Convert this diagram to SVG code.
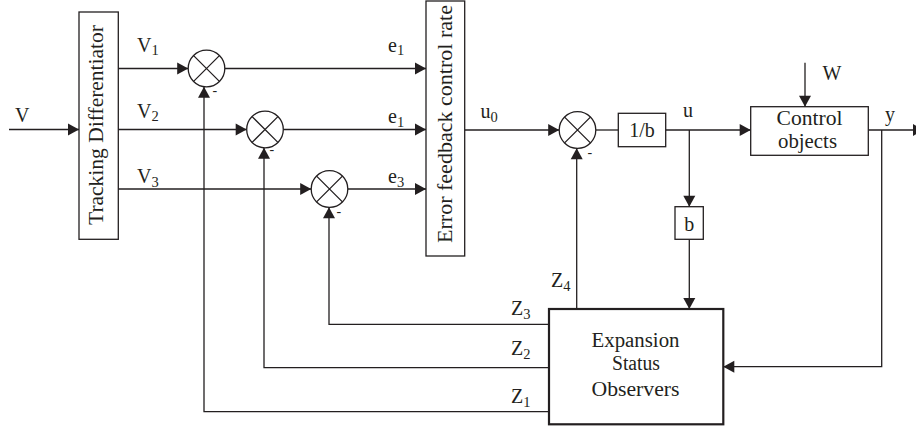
<svg xmlns="http://www.w3.org/2000/svg" width="916" height="430" viewBox="0 0 916 430">
<defs>
<marker id="arr" markerUnits="userSpaceOnUse" markerWidth="11" markerHeight="12" refX="11" refY="6" orient="auto" overflow="visible">
<path d="M0,0 L11,6 L0,12 Z" fill="#231f20"/>
</marker>
<style>
.ln{fill:none;stroke:#231f20;stroke-width:1.3}
.ar{marker-end:url(#arr)}
.bx{fill:#fff;stroke:#231f20;stroke-width:1.3}
.bx2{fill:#fff;stroke:#231f20;stroke-width:2.2}
.sum{fill:#fff;stroke:#231f20;stroke-width:1.3}
text{font-family:"Liberation Serif","Times New Roman",serif;fill:#231f20;font-size:20px}
.sub{font-size:14.5px}
.mn{font-size:14px}
.c{text-anchor:middle}
</style>
</defs>
<rect width="916" height="430" fill="#fff"/>

<g id="connectors">
<path class="ln ar" d="M9,129.5 H79"/>
<path class="ln ar" d="M118,68.5 H188.2"/>
<path class="ln ar" d="M118,129.5 H246.7"/>
<path class="ln ar" d="M118,189 H311.2"/>
<path class="ln ar" d="M224.8,68.5 H426"/>
<path class="ln ar" d="M283.3,129.5 H426"/>
<path class="ln ar" d="M347.8,189 H426"/>
<path class="ln ar" d="M465,130 H559.2"/>
<path class="ln" d="M595.8,130 H618.3"/>
<path class="ln ar" d="M665.7,130 H750.7"/>
<path class="ln ar" d="M689.3,130 V206.7"/>
<path class="ln ar" d="M689.3,239.3 V309"/>
<path class="ln ar" d="M805,62.7 V106.7"/>
<path class="ln ar" d="M868.3,130 H924"/>
<path class="ln ar" d="M881.7,130 V366.7 H723.3"/>
<path class="ln ar" d="M576.7,309 V148.3"/>
<path class="ln ar" d="M549,324.3 H329 V207.3"/>
<path class="ln ar" d="M549,367.7 H264 V147.8"/>
<path class="ln ar" d="M549,411.7 H204 V86.7"/>
</g>

<g id="td">
<rect class="bx" x="79" y="12" width="39.3" height="227.3"/>
<text class="c" transform="translate(103,125) rotate(-90)" textLength="200" lengthAdjust="spacingAndGlyphs">Tracking Differentiator</text>
</g>

<g id="efc">
<rect class="bx" x="426" y="1" width="38.7" height="255"/>
<text class="c" transform="translate(452,124) rotate(-90)" textLength="238" lengthAdjust="spacingAndGlyphs">Error feedback control rate</text>
</g>

<g id="sum1">
<circle class="sum" cx="206.5" cy="68.5" r="18.3"/>
<path class="ln" d="M193.6,55.6 L219.4,81.4 M219.4,55.6 L193.6,81.4"/>
<text class="mn" x="212.5" y="94.5">-</text>
</g>
<g id="sum2">
<circle class="sum" cx="265" cy="129.5" r="18.3"/>
<path class="ln" d="M252.1,116.6 L277.9,142.4 M277.9,116.6 L252.1,142.4"/>
<text class="mn" x="269.5" y="154">-</text>
</g>
<g id="sum3">
<circle class="sum" cx="329.5" cy="189" r="18.3"/>
<path class="ln" d="M316.6,176.1 L342.4,201.9 M342.4,176.1 L316.6,201.9"/>
<text class="mn" x="336.5" y="216">-</text>
</g>
<g id="sum4">
<circle class="sum" cx="577.5" cy="130" r="18.3"/>
<path class="ln" d="M564.6,117.1 L590.4,142.9 M590.4,117.1 L564.6,142.9"/>
<text class="mn" x="587.5" y="156.5">-</text>
</g>

<g id="invb">
<rect class="bx" x="618.3" y="113.3" width="47.4" height="33.4"/>
<text class="c" x="642" y="136.5">1/b</text>
</g>

<g id="b">
<rect class="bx" x="675" y="206.7" width="28.3" height="32.6"/>
<text class="c" x="689.2" y="231">b</text>
</g>

<g id="plant">
<rect class="bx" x="750.7" y="106.7" width="117.6" height="48.6"/>
<text class="c" x="809.5" y="125" textLength="66" lengthAdjust="spacingAndGlyphs">Control</text>
<text class="c" x="807.5" y="148" textLength="59" lengthAdjust="spacingAndGlyphs">objects</text>
</g>

<g id="eso">
<rect class="bx2" x="549" y="309" width="174.3" height="115.3"/>
<text class="c" x="635.5" y="346.5" textLength="88" lengthAdjust="spacingAndGlyphs">Expansion</text>
<text class="c" x="636" y="370" textLength="48" lengthAdjust="spacingAndGlyphs">Status</text>
<text class="c" x="635.5" y="395.5" textLength="88" lengthAdjust="spacingAndGlyphs">Observers</text>
</g>

<g id="labels">
<text x="15" y="121.7">V</text>
<text x="137" y="51.5">V<tspan class="sub" dy="3.5">1</tspan></text>
<text x="137" y="117.5">V<tspan class="sub" dy="3.5">2</tspan></text>
<text x="137" y="183">V<tspan class="sub" dy="3.5">3</tspan></text>
<text x="388" y="51.5">e<tspan class="sub" dy="3.5">1</tspan></text>
<text x="388" y="123">e<tspan class="sub" dy="3.5">1</tspan></text>
<text x="388" y="183">e<tspan class="sub" dy="3.5">3</tspan></text>
<text x="480.5" y="118">u<tspan class="sub" dy="3.5">0</tspan></text>
<text x="683" y="117">u</text>
<text x="885" y="121">y</text>
<text x="822.5" y="80">W</text>
<text x="551" y="286.5">Z<tspan class="sub" dy="4">4</tspan></text>
<text x="511" y="315">Z<tspan class="sub" dy="4">3</tspan></text>
<text x="511" y="355">Z<tspan class="sub" dy="4">2</tspan></text>
<text x="511" y="402.5">Z<tspan class="sub" dy="4">1</tspan></text>
</g>
</svg>
